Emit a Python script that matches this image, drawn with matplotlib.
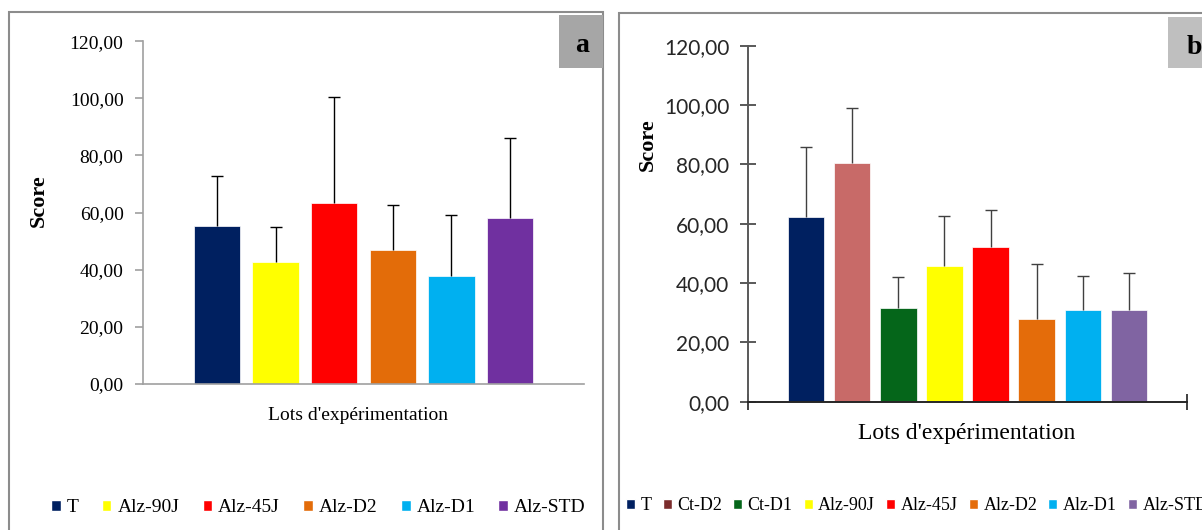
import matplotlib.pyplot as plt
from matplotlib.patches import Rectangle, Patch

# panel a
lots_a = ['T', 'Alz-90J', 'Alz-45J', 'Alz-D2', 'Alz-D1', 'Alz-STD']
score_a = [55.3, 42.7, 63.3, 46.8, 37.8, 58.2]
err_a = [17.4, 12.4, 37.2, 16.0, 21.3, 27.8]
colors_a = ['#002060', '#FFFF00', '#FF0000', '#E36C09', '#00B0F0', '#7030A0']

# panel b
lots_b = ['T', 'Ct-D2', 'Ct-D1', 'Alz-90J', 'Alz-45J', 'Alz-D2', 'Alz-D1', 'Alz-STD']
score_b = [62.3, 80.3, 31.5, 45.6, 52.0, 28.0, 30.8, 30.8]
err_b = [23.4, 18.6, 10.4, 17.1, 12.6, 18.3, 11.6, 12.6]
colors_b = ['#002060', '#C86A68', '#05661A', '#FFFF00', '#FF0000', '#E46C0A', '#00B0F0', '#8064A2']
legend_b = ['#002060', '#7B2C2C', '#05661A', '#FFFF00', '#FF0000', '#E46C0A', '#00B0F0', '#8064A2']

yticks = [0, 20, 40, 60, 80, 100, 120]
ylabels = ['0,00', '20,00', '40,00', '60,00', '80,00', '100,00', '120,00']

W, H = 1202, 530
serif = 'Liberation Serif'

fig = plt.figure(figsize=(W / 100, H / 100), dpi=100)

def fx(px):
    return px / W

def fy(py):
    return 1 - py / H

def up_errors(ax, x, vals, errs, color):
    tops = [v + e for v, e in zip(vals, errs)]
    ax.vlines(x, vals, tops, color=color, lw=1)
    ax.plot(x, tops, ls='none', marker='_', ms=9, mew=1, color=color)

# panel frames
fig.patches.append(Rectangle((fx(9), fy(545)), fx(603 - 9), 533 / H, transform=fig.transFigure,
                             fill=False, edgecolor='#8c8c8c', lw=1.5))
fig.patches.append(Rectangle((fx(619), fy(545)), fx(620), 532 / H, transform=fig.transFigure,
                             fill=False, edgecolor='#8c8c8c', lw=1.5))
# label boxes
fig.patches.append(Rectangle((fx(559), fy(68)), fx(44), 53 / H, transform=fig.transFigure,
                             facecolor='#A6A6A6', edgecolor='none'))
fig.patches.append(Rectangle((fx(1168), fy(68)), fx(40), 51 / H, transform=fig.transFigure,
                             facecolor='#BFBFBF', edgecolor='none'))
fig.text(fx(582), fy(46), 'a', family=serif, weight='bold', fontsize=20, ha='center', va='center')
fig.text(fx(1194), fy(47), 'b', family=serif, weight='bold', fontsize=20, ha='center', va='center')

# ---- panel a ----
ax = fig.add_axes([fx(143), 146 / H, fx(441), 342.8 / H])
x = list(range(len(lots_a)))
ax.bar(x, score_a, width=0.79, color=colors_a, edgecolor='white', linewidth=0.5)
up_errors(ax, x, score_a, err_a, 'black')
ax.set_xlim(-1.26, len(lots_a) - 1 + 1.26)
ax.set_ylim(0, 120)
ax.set_yticks(yticks)
ax.set_yticklabels(ylabels, family=serif, fontsize=14)
ax.set_xticks([])
for s in ['top', 'right']:
    ax.spines[s].set_visible(False)
for s in ['left', 'bottom']:
    ax.spines[s].set_color('#A0A0A0')
    ax.spines[s].set_linewidth(1.2)
ax.tick_params(axis='y', direction='out', length=6, color='#A0A0A0', width=1.2, pad=8)
fig.text(fx(39), fy(201), 'Score', family=serif, weight='bold', fontsize=16,
         rotation=90, ha='center', va='center')
fig.text(fx(358), fy(415), "Lots d'expérimentation", family=serif, fontsize=14,
         ha='center', va='center')
h_a = [Patch(facecolor=c, edgecolor='white') for c in colors_a]
fig.legend(h_a, lots_a, loc='center left', bbox_to_anchor=(fx(51), fy(508)), ncol=6,
           frameon=False, prop={'family': serif, 'size': 14}, handlelength=0.5,
           handleheight=0.5, handletextpad=0.3, columnspacing=1.2, borderaxespad=0,
           borderpad=0)

# ---- panel b ----
ax = fig.add_axes([fx(748), 128.4 / H, fx(439), 356 / H])
x = list(range(len(lots_b)))
ax.bar(x, score_b, width=0.79, color=colors_b, edgecolor='white', linewidth=0.5)
up_errors(ax, x, score_b, err_b, '#404040')
xmin, xmax = -1.26, len(lots_b) - 1 + 1.26
ax.set_xlim(xmin, xmax)
ax.set_ylim(0, 120)
ax.set_yticks(yticks)
ax.set_yticklabels(ylabels, family='Lato', fontsize=15, color='#262626')
ax.set_xticks([xmin, xmax])
ax.set_xticklabels(['', ''])
for s in ['top', 'right']:
    ax.spines[s].set_visible(False)
ax.spines['left'].set_color('#595959')
ax.spines['bottom'].set_color('#262626')
ax.spines['left'].set_linewidth(1.4)
ax.spines['bottom'].set_linewidth(1.4)
ax.tick_params(axis='y', direction='inout', length=11, color='#595959', width=1.4, pad=8)
ax.tick_params(axis='x', direction='inout', length=11, color='#404040', width=1.4)
fig.text(fx(648), fy(145), 'Score', family=serif, weight='bold', fontsize=16,
         rotation=90, ha='center', va='center')
fig.text(fx(967), fy(433), "Lots d'expérimentation", family=serif, fontsize=17,
         ha='center', va='center')
h_b = [Patch(facecolor=c, edgecolor='white') for c in legend_b]
fig.legend(h_b, lots_b, loc='center left', bbox_to_anchor=(fx(626), fy(506)), ncol=8,
           frameon=False, prop={'family': serif, 'size': 13}, handlelength=0.5,
           handleheight=0.5, handletextpad=0.3, columnspacing=0.62, borderaxespad=0,
           borderpad=0)

fig.savefig('out.png', dpi=100)
